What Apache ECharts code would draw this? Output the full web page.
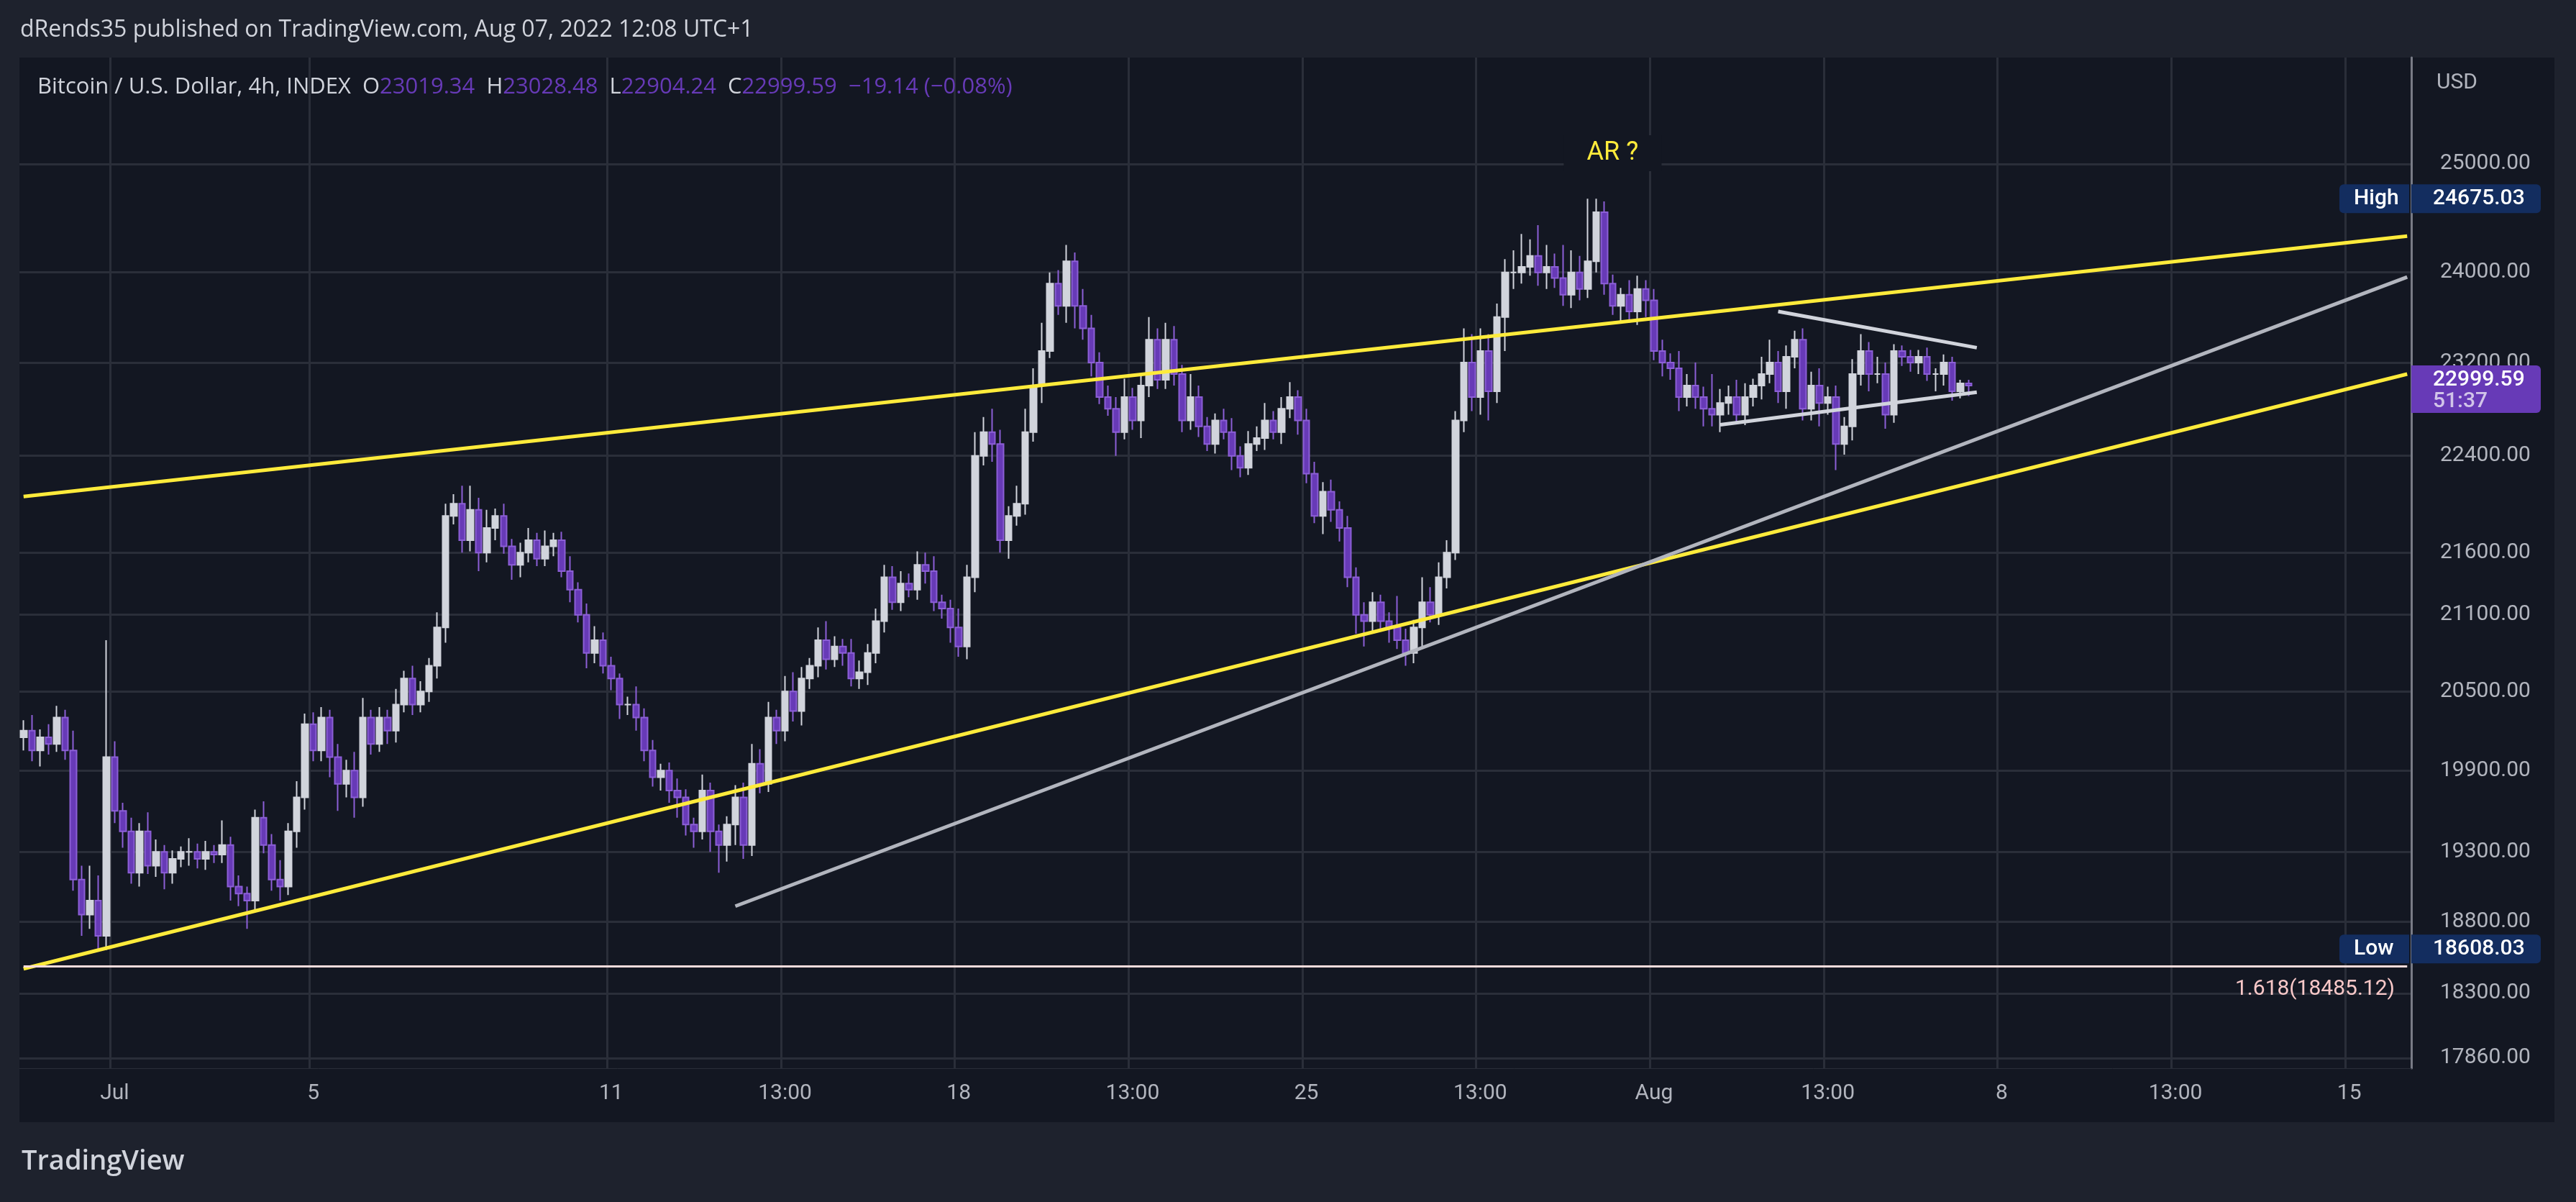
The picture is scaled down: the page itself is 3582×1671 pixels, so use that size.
<!DOCTYPE html>
<html>
<head>
<meta charset="utf-8">
<script src="https://cdn.jsdelivr.net/npm/echarts@6/dist/echarts.min.js"></script>
<style>
  html, body { margin: 0; padding: 0; background: #1e222d; }
  #main { width: 3582px; height: 1671px; }
</style>
</head>
<body>
<div id="main"></div>
<script>
// 4h closes, one row per day, starting Jun 29
const closes = [
  20200, 20050, 20150, 20100, 20300, 20050,
  19100, 18850, 18950, 18700, 20000, 19600,
  19450, 19150, 19450, 19200, 19300, 19150,
  19250, 19300, 19300, 19250, 19300, 19280,
  19350, 19050, 19000, 18950, 19550, 19350,
  19100, 19050, 19450, 19700, 20250, 20050,
  20300, 20000, 19800, 19900, 19700, 20300,
  20100, 20300, 20200, 20400, 20600, 20400,
  20500, 20700, 21000, 21900, 22000, 21700,
  21950, 21600, 21800, 21900, 21650, 21500,
  21600, 21700, 21550, 21650, 21700, 21450,
  21300, 21100, 20800, 20900, 20700, 20600,
  20400, 20400, 20300, 20050, 19850, 19900,
  19750, 19700, 19500, 19450, 19750, 19450,
  19350, 19500, 19700, 19350, 19950, 19800,
  20300, 20200, 20500, 20350, 20600, 20700,
  20900, 20750, 20850, 20800, 20600, 20650,
  20800, 21050, 21400, 21200, 21350, 21300,
  21500, 21450, 21200, 21150, 21000, 20850,
  21400, 22400, 22600, 22500, 21700, 21900,
  22000, 22600, 23000, 23300, 23900, 23700,
  24100, 23700, 23500, 23200, 22900, 22800,
  22600, 22900, 22700, 23000, 23400, 23050,
  23400, 23100, 22700, 22900, 22650, 22500,
  22700, 22600, 22400, 22300, 22500, 22550,
  22700, 22600, 22800, 22900, 22700, 22250,
  21900, 22100, 21950, 21800, 21400, 21100,
  21050, 21200, 21050, 21000, 20900, 20800,
  21000, 21200, 21100, 21400, 21600, 22700,
  23200, 22900, 23300, 22950, 23600, 24000,
  24000, 24050, 24150, 24000, 24050, 23950,
  23800, 24000, 23850, 24100, 24550, 23900,
  23700, 23800, 23650, 23850, 23750, 23300,
  23200, 23150, 22900, 23000, 22900, 22800,
  22750, 22850, 22900, 22750, 22900, 23000,
  23100, 23200, 22950, 23250, 23400, 22800,
  23000, 22850, 22900, 22500, 22650, 23100,
  23300, 23100, 23100, 22750, 23300, 23250,
  23200, 23250, 23100, 23100, 23200, 22950,
  23019.34, 22999.59
];
// upper / lower wick lengths in USD
const wickUp = [
  80, 120, 60, 100, 90, 60,
  150, 100, 250, 180, 900, 120,
  60, 100, 60, 140, 90, 50,
  60, 40, 100, 60, 80, 50,
  180, 60, 80, 50, 60, 120,
  80, 140, 60, 120, 80, 90,
  80, 60, 100, 80, 140, 150,
  60, 80, 60, 120, 60, 100,
  80, 60, 120, 100, 80, 150,
  200, 100, 150, 60, 100, 60,
  80, 100, 60, 130, 60, 70,
  120, 60, 90, 110, 60, 70,
  40, 60, 140, 70, 80, 50,
  60, 90, 60, 50, 120, 60,
  50, 60, 90, 110, 150, 110,
  120, 60, 120, 150, 90, 60,
  100, 150, 80, 60, 110, 90,
  70, 100, 100, 90, 100, 80,
  110, 100, 120, 60, 70, 150,
  100, 200, 130, 200, 120, 80,
  150, 200, 150, 250, 100, 120,
  150, 80, 150, 120, 90, 100,
  100, 160, 80, 90, 200, 100,
  150, 120, 80, 200, 100, 80,
  60, 100, 120, 80, 110, 100,
  150, 80, 100, 130, 60, 100,
  100, 80, 100, 70, 100, 80,
  100, 80, 60, 70, 250, 90,
  60, 200, 120, 120, 100, 80,
  300, 250, 200, 150, 120, 120,
  200, 300, 150, 280, 200, 120,
  300, 200, 150, 250, 125, 100,
  80, 60, 130, 120, 80, 100,
  100, 80, 150, 100, 200, 90,
  300, 120, 100, 150, 120, 60,
  150, 200, 100, 100, 80, 100,
  120, 150, 90, 100, 80, 130,
  150, 80, 150, 100, 60, 50,
  60, 60, 80, 50, 70, 50,
  30, 30
];
const wickDn = [
  100, 80, 120, 80, 60, 70,
  80, 150, 100, 120, 100, 90,
  120, 80, 100, 60, 80, 120,
  80, 60, 100, 70, 80, 60,
  60, 100, 90, 200, 70, 60,
  80, 100, 60, 120, 90, 80,
  80, 150, 200, 100, 150, 70,
  80, 60, 100, 90, 60, 80,
  60, 80, 100, 120, 70, 100,
  90, 150, 80, 100, 60, 120,
  100, 80, 60, 60, 80, 50,
  100, 60, 120, 80, 60, 90,
  110, 80, 100, 80, 70, 100,
  90, 150, 80, 120, 60, 150,
  200, 120, 150, 100, 80, 70,
  60, 100, 80, 80, 110, 80,
  90, 80, 60, 100, 60, 80,
  100, 80, 90, 60, 70, 60,
  80, 100, 70, 80, 120, 80,
  100, 120, 80, 150, 100, 150,
  80, 90, 80, 150, 60, 80,
  150, 200, 100, 120, 60, 60,
  200, 60, 80, 150, 100, 80,
  80, 100, 100, 80, 90, 60,
  80, 60, 120, 80, 60, 60,
  100, 60, 100, 80, 120, 80,
  60, 150, 100, 110, 80, 150,
  200, 100, 80, 120, 70, 100,
  80, 150, 60, 80, 90, 60,
  100, 120, 150, 250, 100, 300,
  150, 100, 80, 120, 150, 90,
  100, 120, 100, 80, 100, 100,
  80, 150, 100, 120, 150, 80,
  120, 100, 120, 80, 100, 150,
  100, 150, 100, 80, 90, 80,
  120, 80, 100, 150, 100, 100,
  100, 200, 100, 220, 90, 120,
  100, 150, 80, 120, 70, 80,
  80, 100, 60, 150, 100, 80,
  60, 90
];
const firstOpen = 20150;
const slotCount = 289;           // 4h slots across the visible window
const startTime = Date.UTC(2022, 5, 29, 4); // Jun 29 04:00
// x-axis labels: slot index -> text
const xTicks = { 11: 'Jul', 35: '5', 71: '11', 92: '13:00', 113: '18', 134: '13:00', 155: '25',
  176: '13:00', 197: 'Aug', 218: '13:00', 239: '8', 260: '13:00', 281: '15' };
const yTicks = [25000, 24000, 23200, 22400, 21600, 21100, 20500, 19900, 19300, 18800, 18300, 17860];
const yMin = 17792, yMax = 26020;
// drawings: [slot, price] pairs
const upperYellow = [[0, 22060], [288, 24330]];
const lowerYellow = [[0, 18470], [288, 23100]];
const greyTrend = [[86, 18910], [288, 23958]];
const triTop = [[212, 23650], [236, 23330]];
const triBottom = [[205, 22663], [236, 22943]];
const fibLevel = 18485.12;
const highValue = 24675.03, lowValue = 18608.03, lastPrice = 22999.59;

const L = Math.log;
const cats = [];
for (let i = 0; i < slotCount; i++) cats.push(String(startTime + i * 4 * 3600e3));
const candles = [];
let prev = firstOpen;
for (let i = 0; i < closes.length; i++) {
  const o = prev, c = closes[i];
  let hi = Math.max(o, c) + wickUp[i], lo = Math.min(o, c) - wickDn[i];
  candles.push([L(o), L(c), L(lo), L(hi)]);
  prev = c;
}
// pin the marked extremes
candles.forEach((d, i) => {
  if (i === 189) d[3] = L(highValue);
  if (i === 9) d[2] = L(lowValue);
});

const seg = (pts, color, w) => [
  { coord: [pts[0][0], L(pts[0][1])], lineStyle: { color, width: w, type: 'solid' } },
  { coord: [pts[1][0], L(pts[1][1])] }
];

const myChart = echarts.init(document.getElementById('main'));
const option = {
  backgroundColor: '#1e222d',
  animation: false,
  grid: { left: 27, right: 229, top: 80, bottom: 186 },
  xAxis: {
    type: 'category', data: cats, boundaryGap: true,
    axisLine: { lineStyle: { color: '#2a2e39' } },
    axisTick: { show: false },
    axisLabel: {
      interval: (i) => xTicks[i] !== undefined,
      formatter: (v, i) => xTicks[i] || '',
      color: '#b2b5be', fontSize: 30, fontFamily: 'Roboto', margin: 20
    },
    splitLine: { show: true, interval: (i) => xTicks[i] !== undefined, lineStyle: { color: '#2a2e39', width: 3 } }
  },
  yAxis: {
    type: 'value', position: 'right', min: L(yMin), max: L(yMax), scale: true,
    axisLine: { show: true, lineStyle: { color: '#787b86', width: 3 } },
    axisTick: { show: false, customValues: yTicks.map(L) },
    axisLabel: {
      customValues: yTicks.map(L),
      formatter: (v) => Math.exp(v).toFixed(2),
      color: '#b2b5be', fontSize: 30, fontFamily: 'Roboto', margin: 40
    },
    splitLine: { show: true, lineStyle: { color: '#2a2e39', width: 3 } }
  },
  series: [{
    type: 'candlestick',
    data: candles,
    barWidth: 9,
    itemStyle: {
      color: '#d1d4dc', color0: '#673ab7',
      borderColor: '#d1d4dc', borderColor0: '#8c5fd6', borderWidth: 2
    },
    markLine: {
      silent: true, symbol: 'none', animation: false,
      label: { show: false },
      data: [
        seg(upperYellow, '#ffeb3b', 5),
        seg(lowerYellow, '#ffeb3b', 5),
        seg(greyTrend, '#b2b5be', 5),
        seg(triTop, '#d1d4dc', 5),
        seg(triBottom, '#d1d4dc', 5),
        [{ coord: [0, L(fibLevel)], lineStyle: { color: '#f8dcdc', width: 3, type: 'solid' } }, { coord: [slotCount - 1, L(fibLevel)] }]
      ]
    }
  }]
};
myChart.setOption(option);

const px = (slot, price) => myChart.convertToPixel({ gridIndex: 0 }, [slot, L(price)]);
const axX = 3353;
const gfx = [];
const box = (y, h, text, bg, fg, extraLeft) => {
  gfx.push({ type: 'rect', shape: { x: axX, y: y - h / 2, width: 180, height: h, r: [0, 6, 6, 0] }, style: { fill: bg } });
  gfx.push({ type: 'text', x: axX + 30, y: y, style: { text, fill: fg, font: '500 30px Roboto', verticalAlign: 'middle' } });
  if (extraLeft) {
    gfx.push({ type: 'rect', shape: { x: axX - 100, y: y - h / 2, width: 97, height: h, r: [6, 0, 0, 6] }, style: { fill: bg } });
    gfx.push({ type: 'text', x: axX - 80, y: y, style: { text: extraLeft, fill: fg, font: '500 30px Roboto', verticalAlign: 'middle' } });
  }
};
box(px(0, highValue)[1], 40, highValue.toFixed(2), '#132d5f', '#ffffff', 'High');
box(px(0, lowValue)[1], 40, lowValue.toFixed(2), '#132d5f', '#ffffff', 'Low');
const lp = px(0, lastPrice)[1];
gfx.push({ type: 'rect', shape: { x: axX, y: lp - 28, width: 180, height: 66, r: [0, 6, 6, 0] }, style: { fill: '#673ab7' } });
gfx.push({ type: 'text', x: axX + 30, y: lp - 8, style: { text: lastPrice.toFixed(2), fill: '#ffffff', font: '500 30px Roboto', verticalAlign: 'middle' } });
gfx.push({ type: 'text', x: axX + 30, y: lp + 22, style: { text: '51:37', fill: '#d1c4e9', font: '500 30px Roboto', verticalAlign: 'middle' } });
// fib label
const fy = px(0, fibLevel)[1];
gfx.push({ type: 'text', x: 3330, y: fy + 32, style: { text: '1.618(' + fibLevel.toFixed(2) + ')', fill: '#f8c8c8', font: '30px Roboto', align: 'right', verticalAlign: 'middle' } });
// annotation
const ar = px(192, 25100);
gfx.push({ type: 'rect', shape: { x: ar[0] - 68, y: ar[1] - 25, width: 136, height: 50 }, style: { fill: '#131722' } });
gfx.push({ type: 'text', x: ar[0], y: ar[1], style: { text: 'AR ?', fill: '#ffeb3b', font: '36px Roboto', align: 'center', verticalAlign: 'middle' } });
// header texts
gfx.push({ type: 'text', left: 28, top: 26, style: { text: 'dRends35 published on TradingView.com, Aug 07, 2022 12:08 UTC+1', fill: '#d1d4dc', font: '32px "Open Sans"' } });
gfx.push({ type: 'text', left: 52, top: 106, style: {
  text: '{w|Bitcoin / U.S. Dollar, 4h, INDEX  O}{p|23019.34}{w|  H}{p|23028.48}{w|  L}{p|22904.24}{w|  C}{p|22999.59  −19.14 (−0.08%)}',
  rich: { w: { fill: '#d1d4dc', font: '31px "Open Sans"' }, p: { fill: '#673ab7', font: '31px "Open Sans"' } } } });
gfx.push({ type: 'text', left: 3388, top: 100, style: { text: 'USD', fill: '#b2b5be', font: '30px Roboto' } });
gfx.push({ type: 'text', left: 30, top: 1596, style: { text: 'TradingView', fill: '#d1d4dc', font: '600 38px "Open Sans"' } });
myChart.setOption({ graphic: [
  { type: 'rect', z: -10, silent: true, shape: { x: 27, y: 80, width: 3525, height: 1480 }, style: { fill: '#131722' } },
  ...gfx.map(g => Object.assign({ z: 100 }, g))
] });
</script>
</body>
</html>
